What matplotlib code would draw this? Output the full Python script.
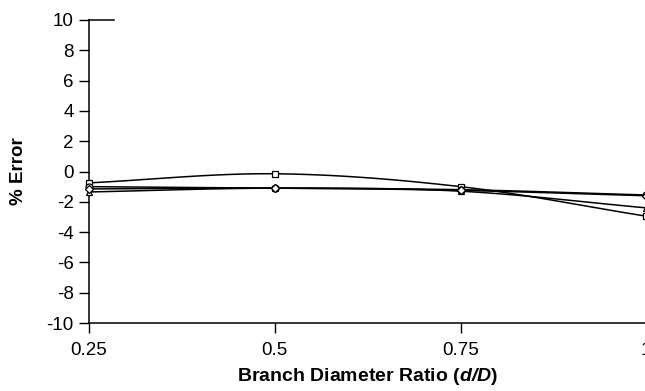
import numpy as np
import matplotlib.pyplot as plt

plt.rcParams['font.family'] = 'Liberation Sans'
plt.rcParams['axes.unicode_minus'] = False
plt.rcParams['mathtext.fontset'] = 'custom'
plt.rcParams['mathtext.bfit'] = 'Liberation Sans:italic:bold'
plt.rcParams['mathtext.it'] = 'Liberation Sans:italic'
plt.rcParams['mathtext.bf'] = 'Liberation Sans:bold'

# ---- data ----
ratio = [0.25, 0.5, 0.75, 1.0]
err_square = [-0.75, -0.15, -1.0, -2.95]
err_circle = [-1.0, -1.1, -1.2, -1.55]
err_triangle = [-1.35, -1.1, -1.3, -2.4]
err_diamond = [-1.15, -1.1, -1.25, -1.6]
markers = ['s', 'o', '^', 'D']
yticks = list(range(-10, 11, 2))
xticks = [0.25, 0.5, 0.75, 1.0]
xticklabels = ['0.25', '0.5', '0.75', '1']


def smooth(x, y, n=30):
    # catmull-rom, like excel's smoothed line
    x = np.asarray(x, float)
    y = np.asarray(y, float)
    px = np.concatenate([[2 * x[0] - x[1]], x, [2 * x[-1] - x[-2]]])
    py = np.concatenate([[2 * y[0] - y[1]], y, [2 * y[-1] - y[-2]]])
    xs, ys = [], []
    t = np.linspace(0, 1, n)
    for i in range(1, len(px) - 2):
        for p, out in ((px, xs), (py, ys)):
            p0, p1, p2, p3 = p[i - 1], p[i], p[i + 1], p[i + 2]
            out.extend(0.5 * ((2 * p1) + (-p0 + p2) * t
                              + (2 * p0 - 5 * p1 + 4 * p2 - p3) * t**2
                              + (-p0 + 3 * p1 - 3 * p2 + p3) * t**3))
    return np.array(xs), np.array(ys)


fig = plt.figure(figsize=(6.45, 3.91), dpi=100)
ax = fig.add_axes([89 / 645, 1 - 323 / 391, 1 - 89 / 645 + 0.002, (323 - 20) / 391])

for ys, m in zip([err_square, err_circle, err_triangle, err_diamond], markers):
    sx, sy = smooth(ratio, ys)
    ax.plot(sx, sy, color='black', lw=1.1, clip_on=False, zorder=2)
    ax.plot(ratio, ys, ls='none', marker=m, ms=5 if m != 'D' else 4,
            mfc='white', mec='black', mew=0.9, clip_on=False, zorder=3)

ax.set_xlim(0.25, 1.0)
ax.set_ylim(-10, 10)
ax.set_xticks(xticks)
ax.set_xticklabels(xticklabels)
ax.set_yticks(yticks)
ax.tick_params(axis='both', direction='out', length=7, width=1.0, labelsize=13.5, pad=4)
ax.tick_params(axis='x', pad=7)
for s in ['top', 'right']:
    ax.spines[s].set_visible(False)
for s in ['left', 'bottom']:
    ax.spines[s].set_linewidth(1.1)
ax.axhline(10, xmin=0, xmax=0.045, color='black', lw=1.1, clip_on=False)

ax.set_ylabel('% Error', fontsize=13.5, fontweight='bold', labelpad=14)
ax.set_xlabel(r'Branch Diameter Ratio ($\mathbfit{d/D}$)', fontsize=14,
              fontweight='bold', labelpad=5)

fig.savefig('out.png', dpi=100)
